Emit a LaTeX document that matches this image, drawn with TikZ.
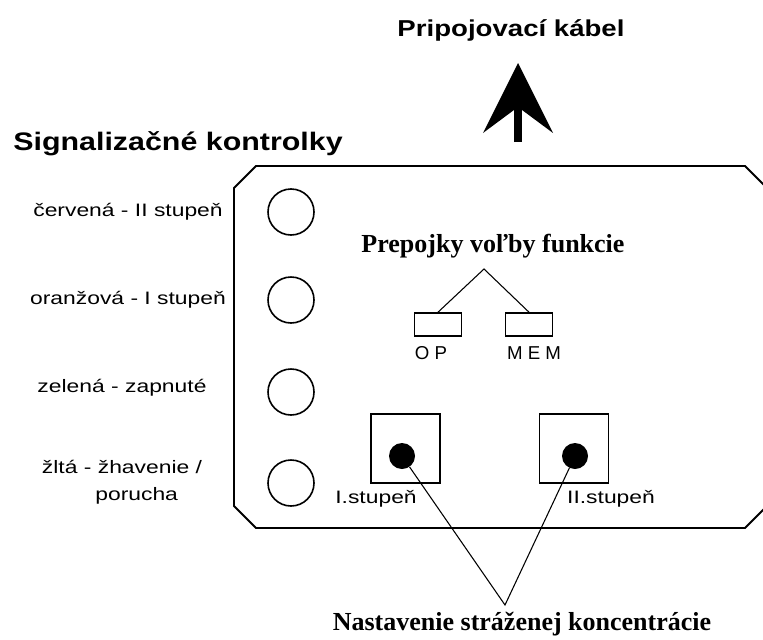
\documentclass[tikz,border=0pt]{standalone}
\usepackage{fontspec}
\setmainfont{Liberation Serif}
\newfontfamily\headfont[FakeStretch=1.2]{Liberation Sans}
\newfontfamily\lampfont[FakeStretch=1.27]{Liberation Sans}
\newfontfamily\jumpfont{Liberation Sans}
\usepackage{tikz}
\usetikzlibrary{arrows.meta,positioning}
\tikzstyle{cablearrow} = [line width=6pt,-{Stealth[length=52.5pt,width=52.5pt,inset=19.5pt,line width=0pt]}]
\tikzstyle{pointer} = [line width=0.8pt]

\begin{document}
\begin{tikzpicture}[x=0.75pt, y=-0.75pt,
    heading/.style={font=\headfont\bfseries\fontsize{19}{22}\selectfont},
    lamptext/.style={font=\lampfont\fontsize{13.5}{20}\selectfont, align=center},
    lamp/.style={circle, draw, line width=1.2pt, minimum size=34.5pt, inner sep=0pt},
    jumper/.style={rectangle, draw, line width=1.2pt, minimum width=35pt, minimum height=17.25pt, inner sep=0pt},
    jumptext/.style={font=\jumpfont\fontsize{14}{16}\selectfont},
    knob/.style={rectangle, draw, line width=1.2pt, minimum size=51.75pt, inner sep=0pt},
    knobdot/.style={circle, fill, minimum size=19.5pt, inner sep=0pt},
    caption/.style={font=\bfseries\fontsize{19.5}{22}\selectfont}]

\useasboundingbox (0,0) rectangle (763,639);
\clip (0,0) rectangle (763,639);

% Housing
\draw[line width=1.4pt] (234,188) -- (256,166) -- (745,166) -- (767,188)
    -- (767,506) -- (745,528) -- (256,528) -- (234,506) -- cycle;

% Cable
\node[heading, font=\headfont\bfseries\fontsize{17.25}{20}\selectfont] (cabletitle) at (511,30) {Pripojovací kábel};
\coordinate (cablefoot) at (518,142);
\coordinate (cabletip) at (518,63);
\draw[cablearrow] (cablefoot) -- (cabletip);

% Signal lamps
\node[heading] (lamptitle) at (178,144) {Signalizačné kontrolky};

\node[lamp] (lampred) at (291,212) {};
\node[lamp] (lamporange) at (291,300) {};
\node[lamp] (lampgreen) at (291,392) {};
\node[lamp] (lampyellow) at (291,483) {};

\node[lamptext] (redtext) at (128,212) {červená - II stupeň};
\node[lamptext] (orangetext) at (128,300) {oranžová - I stupeň};
\node[lamptext] (greentext) at (122,388) {zelená - zapnuté};
\node[lamptext] (yellowtext) at (122,482) {žltá - žhavenie /\\ \hspace*{22pt}porucha};

% Function jumpers
\node[caption] (jumptitle) at (493,246) {Prepojky voľby funkcie};
\coordinate (jumpfork) at (484,269);
\node[jumper] (jumpop) at (438,324.5) {};
\node[jumper] (jumpmem) at (529,324.5) {};
\draw[pointer] (jumpop.north) -- (jumpfork) -- (jumpmem.north);

\node[jumptext] (optext) at (431,353) {O P};
\node[jumptext] (memtext) at (534,353) {M E M};

% Level knobs
\node[knob] (knobone) at (405.5,448.5) {};
\node[knobdot] (dotone) at (402,456) {};
\node[knob] (knobtwo) at (574,448.5) {};
\node[knobdot] (dottwo) at (575,456) {};

\node[lamptext] (onetext) at (376,499) {I.stupeň};
\node[lamptext] (twotext) at (611,499) {II.stupeň};

\coordinate (setfork) at (505,605);
\draw[pointer] (dotone) -- (setfork) -- (dottwo);
\node[caption] (settitle) at (522,624) {Nastavenie stráženej koncentrácie};

\end{tikzpicture}
\end{document}
